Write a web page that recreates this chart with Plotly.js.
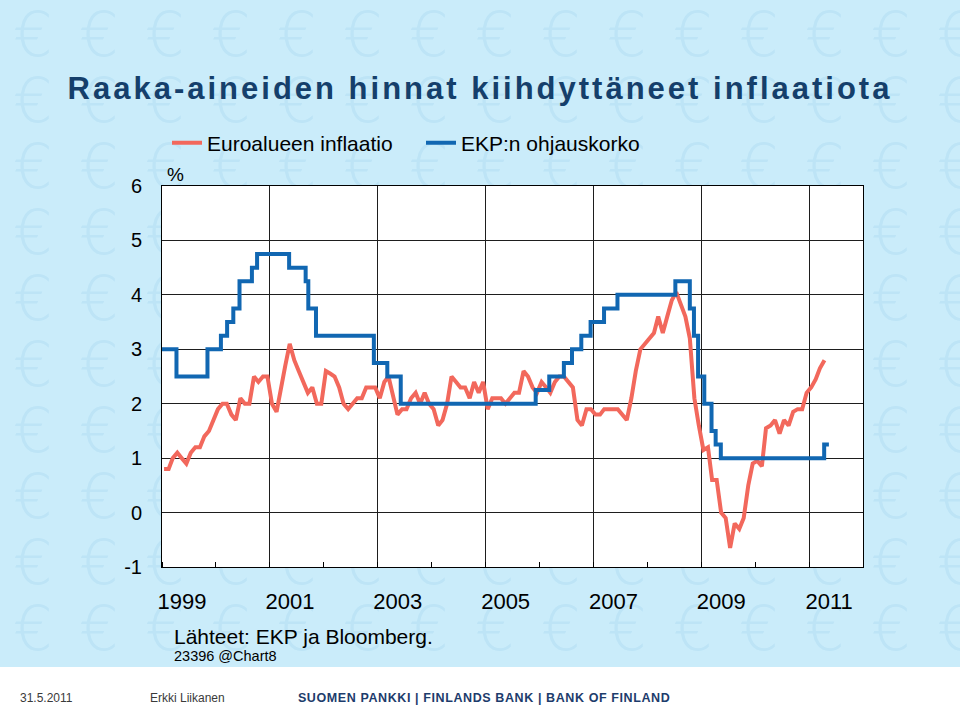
<!DOCTYPE html>
<html>
<head>
<meta charset="utf-8">
<script src="https://cdn.plot.ly/plotly-3.0.1.min.js"></script>
<style>
html,body{margin:0;padding:0;}
body{width:960px;height:707px;background:#ffffff;overflow:hidden;position:relative;}
#bg{position:absolute;left:0;top:0;width:960px;height:667px;background-color:#caecfa;}
#chart{position:absolute;left:0;top:0;width:960px;height:707px;}
text.gtitle{letter-spacing:3px;}
g.annotation[data-index="5"] text{letter-spacing:0.6px;}
</style>
</head>
<body>
<div id="bg"></div>
<div id="chart"></div>
<script>
// ---- Data ----
const seriesNames = ['Euroalueen inflaatio', 'EKP:n ohjauskorko'];
const inflationStart = [1999, 1];
const inflation = [
  0.8,0.8,1.0,1.1,1.0,0.9,1.1,1.2,1.2,1.4,1.5,1.7,
  1.9,2.0,2.0,1.8,1.7,2.1,2.0,2.0,2.5,2.4,2.5,2.5,
  2.0,1.85,2.3,2.7,3.1,2.8,2.6,2.4,2.2,2.3,2.0,2.0,
  2.6,2.55,2.5,2.3,2.0,1.9,2.0,2.1,2.1,2.3,2.3,2.3,
  2.1,2.4,2.5,2.1,1.8,1.9,1.9,2.1,2.2,2.0,2.2,2.0,
  1.9,1.6,1.7,2.0,2.5,2.4,2.3,2.3,2.1,2.4,2.2,2.4,
  1.9,2.1,2.1,2.1,2.0,2.1,2.2,2.2,2.6,2.5,2.3,2.2,
  2.4,2.3,2.2,2.4,2.5,2.5,2.4,2.3,1.7,1.6,1.9,1.9,
  1.8,1.8,1.9,1.9,1.9,1.9,1.8,1.7,2.1,2.6,3.0,3.1,
  3.2,3.3,3.6,3.3,3.6,3.9,4.05,3.8,3.6,3.2,2.1,1.6,
  1.15,1.2,0.6,0.6,0.0,-0.1,-0.65,-0.2,-0.3,-0.1,0.5,0.9,
  0.95,0.85,1.55,1.6,1.7,1.45,1.7,1.6,1.85,1.9,1.9,2.2,
  2.3,2.45,2.65,2.8
];
const ecbDates = [
  '1999-01-01','1999-04-09','1999-11-05','2000-02-04','2000-03-17','2000-04-28',
  '2000-06-09','2000-09-01','2000-10-06','2001-05-11','2001-08-31','2001-09-18',
  '2001-11-09','2002-12-06','2003-03-07','2003-06-06','2005-12-06','2006-03-08',
  '2006-06-15','2006-08-09','2006-10-11','2006-12-13','2007-03-14','2007-06-13',
  '2008-07-09','2008-10-15','2008-11-12','2008-12-10','2009-01-21','2009-03-11',
  '2009-04-08','2009-05-13','2011-04-13','2011-05-15'
];
const ecbRate = [
  3.0,2.5,3.0,3.25,3.5,3.75,
  4.25,4.5,4.75,4.5,4.25,3.75,
  3.25,2.75,2.5,2.0,2.25,2.5,
  2.75,3.0,3.25,3.5,3.75,4.0,
  4.25,3.75,3.25,2.5,2.0,1.5,
  1.25,1.0,1.25,1.25
];
const yearLabels = ['1999','2001','2003','2005','2007','2009','2011'];
const yTicks = [-1,0,1,2,3,4,5,6];
const yTickText = ['-1','0','1','2','3','4','5','6'];

// ---- month dates (mid-month) for the inflation series ----
const inflationDates = inflation.map((v, i) => {
  const m0 = inflationStart[1] - 1 + i;
  const y = inflationStart[0] + Math.floor(m0 / 12);
  const m = (m0 % 12) + 1;
  return y + '-' + String(m).padStart(2, '0') + '-15';
});
const yearTickVals = yearLabels.map(y => y + '-01-01');

// ---- euro background pattern (decoration) ----
const euroSvg = "<svg xmlns='http://www.w3.org/2000/svg' width='66' height='66'>" +
  "<text x='33' y='56' font-family='DejaVu Sans, sans-serif' font-size='62' font-weight='200' text-anchor='middle' fill='#bde4f6'>\u20AC</text></svg>";
document.getElementById('bg').style.backgroundImage =
  'url("data:image/svg+xml,' + encodeURIComponent(euroSvg) + '")';

// pixel helpers for annotations (plot area 162..863 x, 186..567 y)
const L = 162, R = 97, T = 186, B = 140, W = 960, H = 707;
const pw = W - L - R, ph = H - T - B;
const px = v => (v - L) / pw;
const py = v => (H - B - v) / ph;

const traces = [
  {
    x: inflationDates, y: inflation, name: seriesNames[0],
    type: 'scatter', mode: 'lines',
    line: {color: '#f2685c', width: 4}
  },
  {
    x: ecbDates, y: ecbRate, name: seriesNames[1],
    type: 'scatter', mode: 'lines',
    line: {color: '#1167b2', width: 4, shape: 'hv'}
  }
];

const layout = {
  width: W, height: H,
  paper_bgcolor: 'rgba(0,0,0,0)',
  plot_bgcolor: '#ffffff',
  margin: {l: L, r: R, t: T, b: B, pad: 0},
  font: {family: 'Liberation Sans, Arial, sans-serif', color: '#000'},
  showlegend: true,
  title: {
    text: 'Raaka-aineiden hinnat kiihdyttäneet inflaatiota',
    font: {family: 'Liberation Sans, Arial, sans-serif', size: 31, color: '#153f6b', weight: 'bold'},
    x: 0.5, xref: 'container', xanchor: 'center',
    y: 1 - 88 / H, yref: 'container', yanchor: 'middle'
  },
  legend: {
    orientation: 'h',
    x: 167 / W, xref: 'container', xanchor: 'left',
    y: 1 - 143 / H, yref: 'container', yanchor: 'middle',
    font: {size: 21, color: '#000'},
    bgcolor: 'rgba(0,0,0,0)',
    entrywidth: 209,
    traceorder: 'normal'
  },
  xaxis: {
    type: 'date',
    range: ['1999-01-01', '2012-01-01'],
    tickmode: 'array', tickvals: yearTickVals, ticktext: yearLabels,
    ticks: '', ticklabelshift: 20, ticklabelstandoff: 15,
    tickfont: {size: 22, color: '#000'},
    showgrid: true, gridcolor: '#1e1e1e', gridwidth: 1,
    showline: true, linecolor: '#000', linewidth: 1, mirror: true,
    zeroline: false, fixedrange: true,
    minor: {tickmode: 'linear', tick0: '1999-01-01', dtick: 'M12', ticks: 'inside', ticklen: 5, tickcolor: '#000', tickwidth: 1, showgrid: false}
  },
  yaxis: {
    range: [-1, 6],
    tickmode: 'array', tickvals: yTicks, ticktext: yTickText,
    ticks: '', ticklabelstandoff: 15,
    tickfont: {size: 20, color: '#000'},
    showgrid: true, gridcolor: '#1e1e1e', gridwidth: 1,
    showline: true, linecolor: '#000', linewidth: 1, mirror: true,
    zeroline: false, fixedrange: true
  },
  annotations: [
    {text: '%', xref: 'paper', yref: 'paper', x: px(165), y: py(175), xanchor: 'left', yanchor: 'middle', showarrow: false, font: {size: 19, color: '#000'}},
    {text: 'Lähteet: EKP ja Bloomberg.', xref: 'paper', yref: 'paper', x: px(172), y: py(636), xanchor: 'left', yanchor: 'middle', showarrow: false, font: {size: 21, color: '#000'}},
    {text: '23396 @Chart8', xref: 'paper', yref: 'paper', x: px(172), y: py(656), xanchor: 'left', yanchor: 'middle', showarrow: false, font: {size: 14.5, color: '#000'}},
    {text: '31.5.2011', xref: 'paper', yref: 'paper', x: px(18), y: py(698), xanchor: 'left', yanchor: 'middle', showarrow: false, font: {size: 12, color: '#3a3a3a'}},
    {text: 'Erkki Liikanen', xref: 'paper', yref: 'paper', x: px(148), y: py(698), xanchor: 'left', yanchor: 'middle', showarrow: false, font: {size: 12, color: '#3a3a3a'}},
    {text: 'SUOMEN PANKKI | FINLANDS BANK | BANK OF FINLAND', xref: 'paper', yref: 'paper', x: px(484), y: py(698), xanchor: 'center', yanchor: 'middle', showarrow: false, font: {size: 12.5, color: '#1d3c6c', weight: 'bold'}}
  ]
};

Plotly.newPlot('chart', traces, layout, {displayModeBar: false, staticPlot: true});
</script>
</body>
</html>
